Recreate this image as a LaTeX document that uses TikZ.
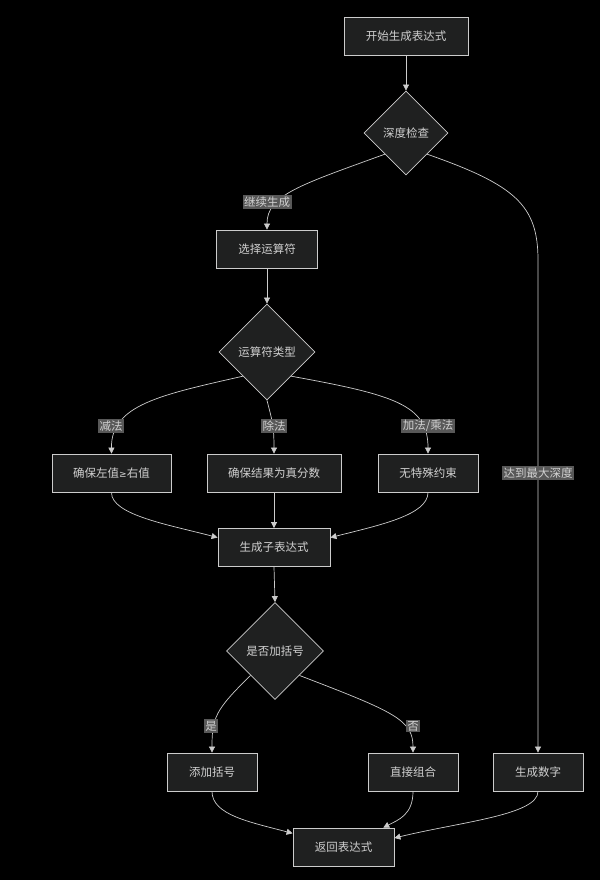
\documentclass[tikz,border=0pt]{standalone}
\usepackage{fontspec}
\setmainfont{Noto Sans CJK SC}
\newfontfamily\symfont{DejaVu Sans}
\usetikzlibrary{shapes.geometric,arrows.meta}
\definecolor{nodefill}{HTML}{1F2020}
\definecolor{nodeline}{HTML}{CCCCCC}
\definecolor{txt}{HTML}{D0D0D0}
\definecolor{lblfill}{HTML}{585858}
\begin{document}
\begin{tikzpicture}[x=1pt,y=-1pt,
  font=\fontsize{11.5}{13}\selectfont,
  box/.style={draw=nodeline, fill=nodefill, text=txt, line width=0.8pt, inner sep=0pt, minimum height=38pt},
  dia/.style={draw=nodeline, fill=nodefill, text=txt, line width=0.8pt, diamond, aspect=1, inner sep=0pt},
  lbl/.style={fill=lblfill, text=txt, inner sep=1.5pt},
  conn/.style={draw=nodeline, line width=0.7pt, -{Triangle[length=6pt,width=6pt]}}]
\fill[black] (0,0) rectangle (600,880);
\useasboundingbox (0,0) rectangle (600,880);

\node[box, minimum width=124pt] (start) at (406,36) {开始生成表达式};
\node[dia, minimum size=84pt] (depth) at (406,133) {深度检查};
\node[box, minimum width=101pt] (sel) at (267,249) {选择运算符};
\node[dia, minimum size=96pt] (optype) at (267,352) {运算符类型};
\node[box, minimum width=119pt] (sub) at (111.5,473) {确保左值{\symfont\fontsize{9}{10}\selectfont ≥}右值};
\node[box, minimum width=134pt] (div) at (274,473) {确保结果为真分数};
\node[box, minimum width=100pt] (none) at (428,473) {无特殊约束};
\node[box, minimum width=112pt] (gensub) at (274,547.5) {生成子表达式};
\node[dia, minimum size=97pt] (bracket) at (275,651) {是否加括号};
\node[box, minimum width=90pt] (add) at (212,772) {添加括号};
\node[box, minimum width=90pt] (direct) at (413,772) {直接组合};
\node[box, minimum width=90pt] (gen) at (538,772) {生成数字};
\node[box, minimum width=101pt] (ret) at (343.5,847) {返回表达式};

\draw[conn] (start.south) -- (depth.north);
\draw[conn] (depth.south west) .. controls (300,185) and (267,195) .. (sel.north);
\draw[conn] (depth.south east) .. controls (515,185) and (538,205) .. (538,260) -- (gen.north);
\draw[conn] (sel.south) -- (optype.north);
\draw[conn] (optype.south west) .. controls (160,395) and (111,405) .. (sub.north);
\draw[conn] (optype.south) .. controls (272,420) and (274,425) .. (div.north);
\draw[conn] (optype.south east) .. controls (395,395) and (428,405) .. (none.north);
\draw[conn] (sub.south) .. controls (111,515) and (170,525) .. (gensub.170);
\draw[conn] (div.south) -- (gensub.north);
\draw[conn] (none.south) .. controls (428,515) and (380,525) .. (gensub.10);
\draw[conn] (gensub.south) -- (bracket.north);
\draw[conn] (bracket.south west) .. controls (215,710) and (212,718) .. (add.north);
\draw[conn] (bracket.south east) .. controls (395,712) and (413,720) .. (direct.north);
\draw[conn] (add.south) .. controls (212,815) and (250,822) .. (ret.165);
\draw[conn] (direct.south) .. controls (413,815) and (398,820) .. (ret.26);
\draw[conn] (gen.south) .. controls (538,815) and (460,822) .. (ret.10);

\node[lbl] (l1) at (267,202) {继续生成};
\node[lbl] (l2) at (538,473) {达到最大深度};
\node[lbl] (l3) at (111,426) {减法};
\node[lbl] (l4) at (274,426) {除法};
\node[lbl] (l5) at (428,426) {加法/乘法};
\node[lbl] (l6) at (211,726) {是};
\node[lbl] (l7) at (413,726) {否};
\end{tikzpicture}
\end{document}
